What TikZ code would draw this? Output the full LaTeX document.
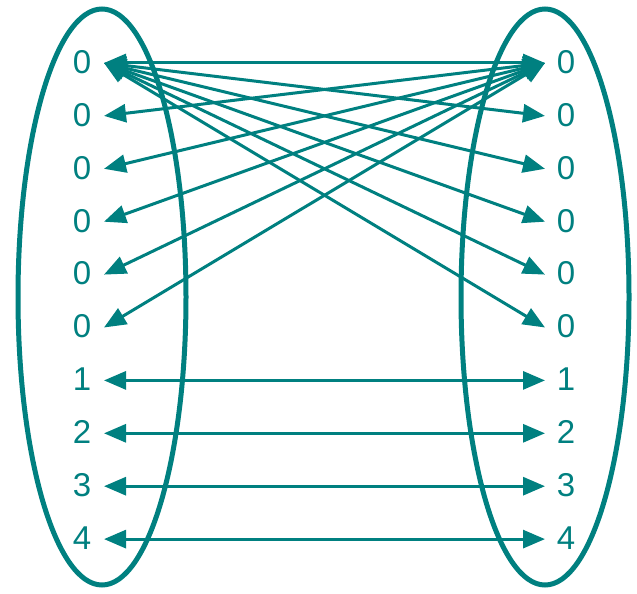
\documentclass[tikz,border=0pt]{standalone}
\usepackage{fontspec}
\setmainfont{Liberation Sans}
\usetikzlibrary{arrows.meta}
\definecolor{teal}{RGB}{0,128,128}
\begin{document}
\begin{tikzpicture}[x=1pt,y=-1pt,
  lbl/.style={text=teal,font=\fontsize{33}{33}\selectfont,inner sep=0pt},
  conn/.style={draw=teal,line width=3pt,{Triangle[length=22pt,width=18pt]}-{Triangle[length=22pt,width=18pt]}},
  ring/.style={draw=teal,line width=5pt}]
\useasboundingbox (0,0) rectangle (637,594);
\draw[ring] (102,297) ellipse [x radius=84, y radius=288];
\draw[ring] (545,297) ellipse [x radius=84, y radius=288];
\foreach \i/\t in {0/0,1/0,2/0,3/0,4/0,5/0,6/1,7/2,8/3,9/4}{
  \pgfmathsetmacro{\yy}{62+52.9*\i}
  \node[lbl] (L\i) at (82,\yy) {\t};
  \node[lbl] (R\i) at (566,\yy) {\t};
  \coordinate (l\i) at (104,\yy+1);
  \coordinate (r\i) at (545,\yy+1);
}
\foreach \i in {1,...,5}{
  \draw[conn] (l0) -- (r\i);
  \draw[conn] (r0) -- (l\i);
}
\draw[conn] (l0) -- (r0);
\foreach \i in {6,...,9}{
  \draw[conn] (l\i) -- (r\i);
}
\end{tikzpicture}
\end{document}
